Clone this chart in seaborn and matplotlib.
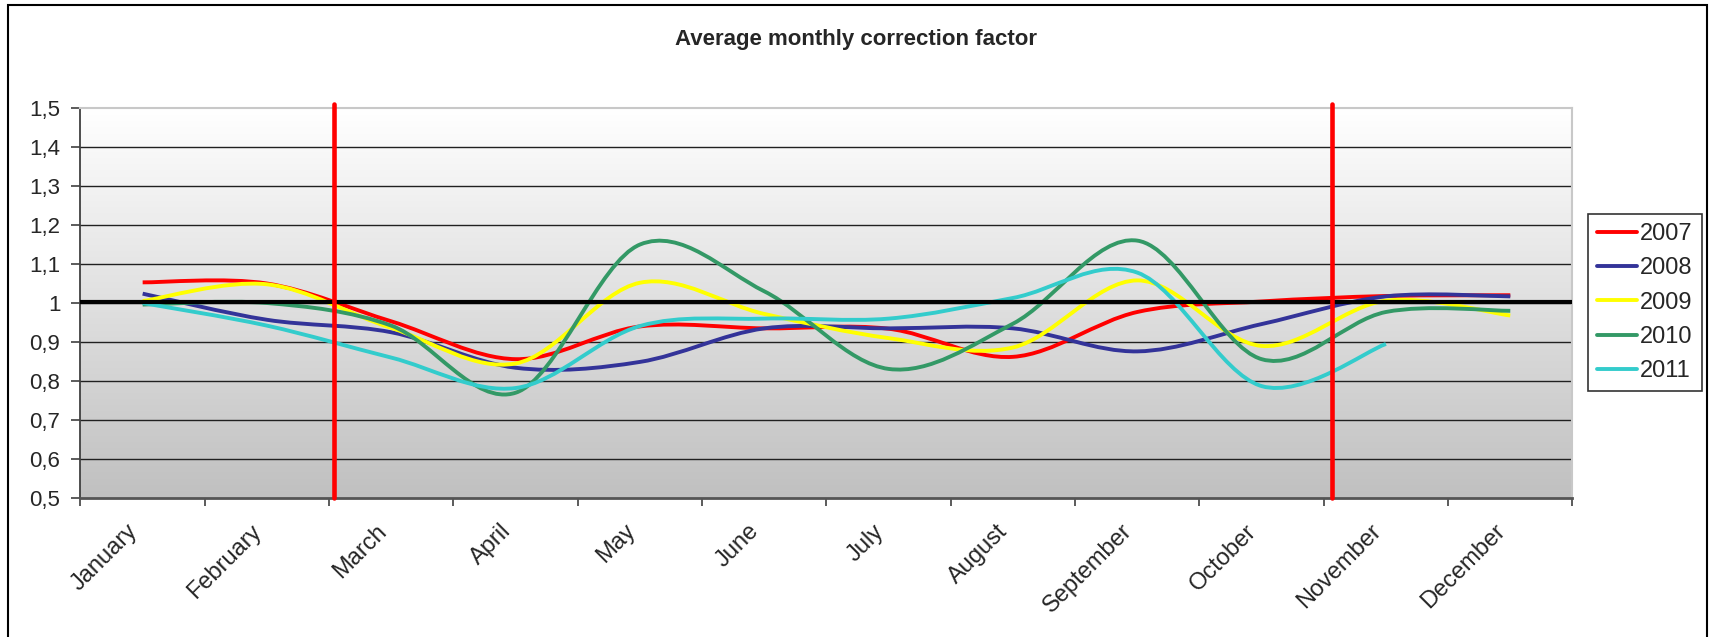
import numpy as np
import seaborn as sns
import matplotlib.pyplot as plt
from matplotlib.path import Path
from matplotlib.patches import PathPatch, Rectangle
from matplotlib.lines import Line2D
from matplotlib.colors import LinearSegmentedColormap

# monthly correction factors
months = ['January', 'February', 'March', 'April', 'May', 'June', 'July',
          'August', 'September', 'October', 'November', 'December']
years = ['2007', '2008', '2009', '2010', '2011']

f2007 = [1.053, 1.050, 0.953, 0.856, 0.940, 0.935, 0.934, 0.862, 0.977, 1.004, 1.018, 1.020]
f2008 = [1.024, 0.957, 0.925, 0.834, 0.849, 0.935, 0.935, 0.935, 0.876, 0.946, 1.017, 1.017]
f2009 = [1.005, 1.048, 0.936, 0.845, 1.052, 0.972, 0.910, 0.886, 1.058, 0.890, 1.006, 0.968]
f2010 = [0.996, 1.000, 0.942, 0.770, 1.150, 1.030, 0.831, 0.947, 1.160, 0.856, 0.977, 0.980]
f2011 = [1.000, 0.942, 0.860, 0.782, 0.941, 0.960, 0.960, 1.013, 1.078, 0.787, 0.895]

series = [f2007, f2008, f2009, f2010, f2011]
colors = ['#FF0000', '#333399', '#FFFF00', '#339966', '#33CCCC']

# reference lines
ref_level = 1.003
marker_months = [1.54, 9.57]   # red lines between Feb/Mar and Oct/Nov

yticks = [0.5, 0.6, 0.7, 0.8, 0.9, 1.0, 1.1, 1.2, 1.3, 1.4, 1.5]
ytick_labels = ['0,5', '0,6', '0,7', '0,8', '0,9', '1', '1,1', '1,2', '1,3', '1,4', '1,5']


def smooth_path(values):
    # Excel-style smoothed line: cubic bezier through every point
    pts = np.column_stack([np.arange(len(values)), values]).astype(float)
    n = len(pts)
    verts = [pts[0]]
    codes = [Path.MOVETO]
    for i in range(n - 1):
        p0 = pts[max(i - 1, 0)]
        p1 = pts[i]
        p2 = pts[i + 1]
        p3 = pts[min(i + 2, n - 1)]
        verts += [p1 + (p2 - p0) / 6, p2 - (p3 - p1) / 6, p2]
        codes += [Path.CURVE4] * 3
    return Path(verts, codes)


sns.set_theme(style="white")
plt.rcParams['font.family'] = ['Liberation Sans', 'DejaVu Sans']

fig = plt.figure(figsize=(17.09, 6.37), dpi=100)
ax = fig.add_axes([0.0471, 0.2182, 0.8730, 0.6122])

# grey gradient background of the plot area
grad_cmap = LinearSegmentedColormap.from_list('bg', ['#c0c0c0', '#ffffff'])
ax.imshow(np.linspace(1, 0, 256).reshape(-1, 1), cmap=grad_cmap, aspect='auto',
          extent=[-0.5, 11.5, 0.5, 1.5], zorder=0)

for yv in yticks[1:-1]:
    ax.axhline(yv, color='#202020', lw=1.0, zorder=1)

for vals, col, yr in zip(series, colors, years):
    ax.add_patch(PathPatch(smooth_path(vals), facecolor='none', edgecolor=col,
                           lw=2.8, capstyle='butt', joinstyle='round', zorder=3))

ax.axhline(ref_level, color='black', lw=3.0, zorder=4)
for xm in marker_months:
    ax.axvline(xm, ymin=0, ymax=1.01, color='#FF0000', lw=3.3, zorder=5, clip_on=False)

ax.set_xlim(-0.5, 11.5)
ax.set_ylim(0.5, 1.5)

ax.set_yticks(yticks)
ax.set_yticklabels(ytick_labels, fontsize=16)
ax.set_xticks(np.arange(-0.5, 12, 1.0))
ax.set_xticklabels([])
# month labels sit a little left of the category centre, as in the original
ax.set_xticks(np.arange(12) - 0.13, minor=True)
ax.set_xticklabels(months, minor=True, fontsize=17, rotation=45,
                   ha='right', va='top', rotation_mode='anchor')
ax.tick_params(axis='y', direction='out', length=6.5, width=1.2, color='#404040',
               pad=8, left=True)
ax.tick_params(axis='x', which='major', direction='out', length=5.5, width=1.2,
               color='#404040', bottom=True)
ax.tick_params(axis='x', which='minor', length=0, pad=16)

ax.spines['top'].set_color('#c8c8c8')
ax.spines['right'].set_color('#c8c8c8')
ax.spines['top'].set_linewidth(1.5)
ax.spines['right'].set_linewidth(1.5)
ax.spines['left'].set_color('#404040')
ax.spines['left'].set_linewidth(1.3)
ax.spines['bottom'].set_color('#555555')
ax.spines['bottom'].set_linewidth(2.0)

handles = [Line2D([0], [0], color=c, lw=2.8) for c in colors]
leg = fig.legend(handles, years, loc='center left', bbox_to_anchor=(0.929, 0.525),
                 fontsize=17, frameon=True, fancybox=False, shadow=False,
                 handlelength=1.7, handletextpad=0.15, labelspacing=0.52,
                 borderpad=0.38, borderaxespad=0)
leg.get_frame().set_edgecolor('black')
leg.get_frame().set_linewidth(1.2)

fig.text(856 / 1709, 1 - 40 / 637, 'Average monthly correction factor',
         ha='center', va='center', fontsize=16, fontweight='bold')

# outer chart border
fig.patches.append(Rectangle((8 / 1709, -0.05), 1699 / 1709, 1.05 - 5 / 637,
                             transform=fig.transFigure, fill=False,
                             edgecolor='black', lw=1.5))

fig.savefig('out.png', dpi=100)
